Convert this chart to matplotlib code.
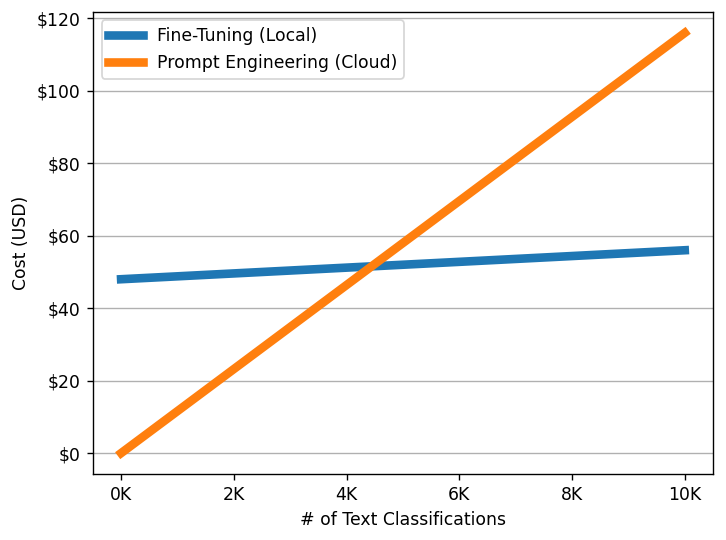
import matplotlib
matplotlib.use("Agg")
import matplotlib.pyplot as plt
import matplotlib.ticker

classifications = [0, 10000]
fine_tuning_cost = [48, 56]
prompt_cost = [0, 116]

# Reference looks like a higher dpi render scaled down
figure, axes = plt.subplots(figsize = (726 / 124, 540 / 124), dpi = 124)
figure.subplots_adjust(left = 0.128, right = 0.982, top = 0.978, bottom = 0.122)

axes.plot(classifications, fine_tuning_cost, linewidth = 5, label = "Fine-Tuning (Local)")
axes.plot(classifications, prompt_cost, linewidth = 5, label = "Prompt Engineering (Cloud)")

axes.set_xlabel("# of Text Classifications")
axes.set_ylabel("Cost (USD)")
axes.xaxis.set_major_formatter(matplotlib.ticker.FuncFormatter(lambda x, _: f"{x / 1000:.0f}K"))
axes.yaxis.set_major_formatter(matplotlib.ticker.FuncFormatter(lambda y, _: f"${y:.0f}"))
axes.grid(axis = "y", color = "#b0b0b0", linewidth = 0.8)
axes.set_axisbelow(True)
axes.legend(loc = "upper left")

figure.savefig("out.png")
